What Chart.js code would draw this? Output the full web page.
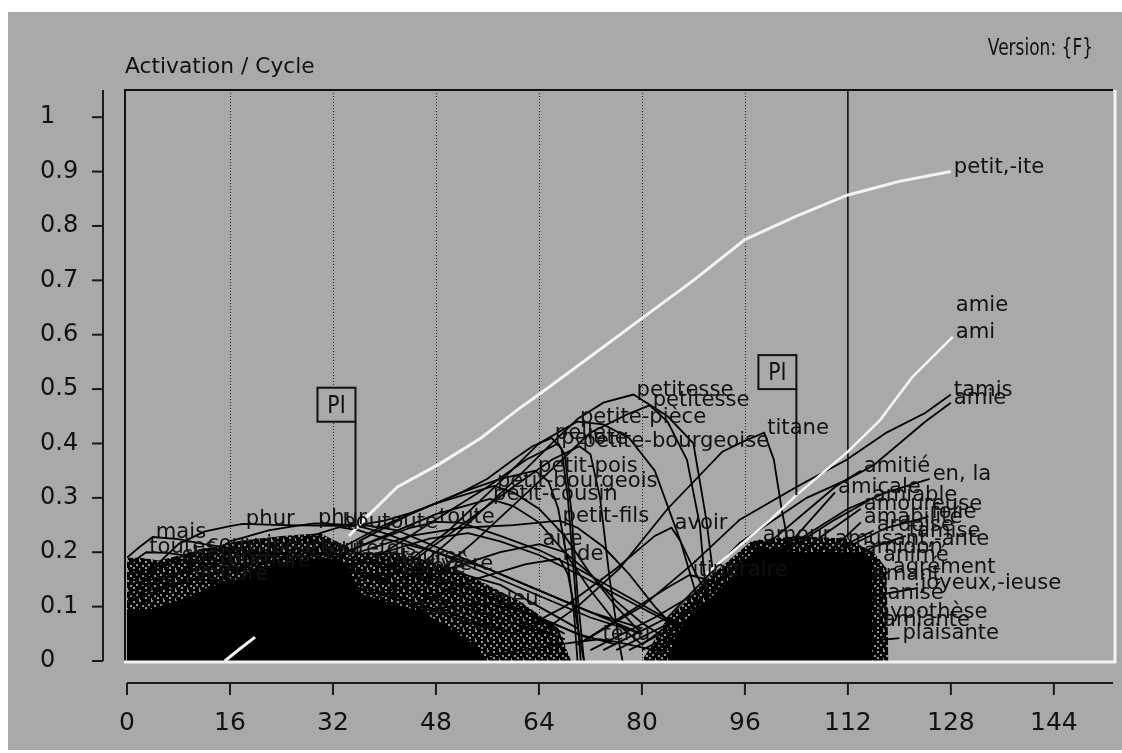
<!DOCTYPE html>
<html>
<head>
<meta charset="utf-8">
<style>
  html, body { margin: 0; padding: 0; background: #fff; }
  canvas { display: block; }
</style>
<script src="https://cdn.jsdelivr.net/npm/chart.js@4.4.1/dist/chart.umd.min.js"></script>
</head>
<body>
<canvas id="chartActivation" width="1122" height="753"></canvas>
<script>
// === Données : activation des mots par cycle ===

const xTicks = [0, 16, 32, 48, 64, 80, 96, 112, 128, 144];
const yTicks = [0, 0.1, 0.2, 0.3, 0.4, 0.5, 0.6, 0.7, 0.8, 0.9, 1];
const dottedCycles = [16, 32, 48, 64, 80, 96];
const solidCycles = [112];

// mot cible (courbe blanche)
const petitCycles = [15.2, 17.5, 19.9, 24, 28, 32, 34.5, 37, 42, 48.5, 55, 61, 64, 72, 80, 88, 96, 104, 112, 120, 128];
const petitAct    = [0, 0.022, 0.044, 0.1, 0.15, 0.2, 0.23, 0.262, 0.32, 0.362, 0.41, 0.465, 0.49, 0.56, 0.63, 0.7, 0.775, 0.818, 0.857, 0.882, 0.9];
const petitMasked = [19.9, 36.5]; // cycles où la courbe disparaît sous la masse noire

// second mot (courbe blanche)
const amiCycles = [90, 95, 100, 104, 108, 112, 117, 122, 128.3];
const amiAct    = [0.16, 0.21, 0.26, 0.305, 0.345, 0.385, 0.443, 0.522, 0.596];

// repères "PI" : cycle, niveau du cadre, courbe visée
const piCycles = [35.5, 104];
const piLevels = [0.44, 0.5];
const piTargets = ['petit', 'ami'];

// étiquettes empilées sans courbe propre
const extraWords = ['amie'];
const extraCycles = [128.3];
const extraAct = [0.645];

// masses noires (enveloppes des centaines de courbes superposées)
const massLeftCore = [[0,0.095],[4,0.095],[5,0.1],[10,0.12],[14,0.14],[17,0.15],[21,0.173],[26,0.185],[31,0.19],[34,0.18],[35,0.15],[36,0.125],[40,0.11],[46,0.09],[50,0.06],[54,0.03],[56,0]];
const massLeftFringe = [[0,0.19],[2,0.19],[5,0.185],[10,0.2],[17,0.22],[24,0.23],[30,0.235],[36,0.2],[42,0.2],[51,0.17],[56,0.14],[61,0.11],[64,0.085],[67,0.06],[68,0.03],[69,0]];
const massRightCore = [[84,0],[86,0.06],[88,0.09],[92,0.13],[95,0.17],[98,0.21],[104,0.2],[110,0.2],[114,0.2],[115.8,0.19],[115.8,0]];
const massRightFringe = [[80,0],[82,0.04],[84,0.08],[86,0.1],[90,0.15],[94,0.19],[97,0.22],[104,0.23],[112,0.225],[116,0.2],[118,0.17],[118.3,0]];

// courbes noires individuelles : [mot, points [cycle, activation]]
const tangle = [
  ['mais', [[0,0.19],[2,0.21],[4,0.228],[8,0.224],[12,0.215],[20,0.2],[28,0.18],[36,0.16],[44,0.13],[52,0.1],[60,0.07],[68,0.04]]],
  ['toutes', [[0,0.175],[3,0.2],[6,0.199],[12,0.19],[20,0.175],[28,0.16],[36,0.14],[44,0.11],[52,0.08],[60,0.05]]],
  ['couvrir', [[0,0.16],[4,0.17],[8,0.19],[12,0.206],[16,0.2],[24,0.18],[32,0.15],[40,0.12],[48,0.09],[56,0.06]]],
  ['phur', [[0,0.1],[4,0.17],[8,0.215],[12,0.238],[16,0.248],[18,0.252],[24,0.25],[30,0.249],[36,0.248],[40,0.235],[48,0.2],[56,0.16],[64,0.12],[72,0.08],[80,0.05]]],
  ['phur', [[0,0.08],[8,0.16],[16,0.22],[22,0.24],[26,0.248],[29.2,0.253],[33,0.251],[37,0.25],[42,0.24],[48,0.21],[56,0.17],[64,0.13],[72,0.09],[80,0.05]]],
  ['boutoute', [[0,0.05],[8,0.1],[16,0.16],[24,0.21],[30,0.235],[33,0.246],[36,0.24],[40,0.225],[48,0.2],[56,0.17],[64,0.13],[72,0.09],[80,0.06]]],
  ['toute', [[16,0.08],[26,0.15],[36,0.21],[44,0.245],[48,0.256],[52,0.254],[58,0.23],[64,0.204],[70,0.17],[76,0.13],[82,0.09],[88,0.05]]],
  [null, [[20,0.08],[30,0.15],[40,0.2],[47,0.225],[53,0.235],[58,0.22],[64,0.195],[70,0.16],[78,0.11],[86,0.06]]],
  ['chemise', [[0,0.15],[4,0.165],[8,0.185],[12,0.18],[20,0.16],[28,0.14],[36,0.11],[44,0.08],[52,0.05]]],
  ['tournure', [[0,0.14],[6,0.155],[14,0.175],[18,0.17],[26,0.15],[34,0.12],[42,0.09],[50,0.06]]],
  ['pourtour', [[0,0.125],[8,0.16],[16,0.19],[22,0.2],[28,0.19],[36,0.165],[44,0.13],[52,0.09],[60,0.05]]],
  ['toutefois', [[0,0.11],[10,0.15],[20,0.18],[30,0.196],[36,0.185],[44,0.16],[52,0.12],[60,0.08],[68,0.04]]],
  ['entourer', [[4,0.05],[14,0.11],[26,0.16],[38,0.182],[44,0.17],[52,0.14],[60,0.1],[68,0.05]]],
  ['rivière', [[8,0.04],[20,0.1],[34,0.15],[46,0.17],[52,0.16],[58,0.14],[64,0.1],[70,0.06]]],
  ['lisière', [[20,0.06],[30,0.12],[38,0.155],[42.4,0.163],[48,0.15],[54,0.13],[60,0.1],[66,0.07],[72,0.04]]],
  ['voiture', [[0,0.12],[5,0.135],[10,0.15],[16,0.145],[24,0.13],[32,0.11],[40,0.08],[48,0.05]]],
  ['pelle', [[36,0.25],[40,0.258],[44,0.272],[48,0.29],[52,0.31],[56,0.335],[60,0.37],[63,0.395],[66,0.41],[67.5,0.39],[68.5,0.3],[69.5,0.15],[70.5,0]]],
  ['pelote', [[40,0.2],[48,0.26],[56,0.32],[62,0.37],[67,0.4],[68,0.38],[69,0.28],[70,0.12],[71,0]]],
  ['petite-bourgeoise', [[44,0.18],[52,0.25],[60,0.32],[66,0.37],[70.3,0.395],[72,0.38],[73.5,0.3],[75,0.15],[76.5,0.03],[77,0]]],
  ['petite-pièce', [[40,0.15],[50,0.24],[58,0.33],[64,0.4],[69.9,0.44],[74,0.435],[78,0.41],[82,0.35],[86,0.22],[89,0.1],[91,0]]],
  ['petitesse', [[40,0.12],[50,0.22],[60,0.33],[66,0.4],[70,0.445],[74,0.475],[78.7,0.49],[84,0.45],[88,0.4],[90,0.26],[91.5,0.12],[92.5,0]]],
  ['petitesse', [[44,0.12],[54,0.22],[64,0.33],[72,0.42],[78,0.455],[81.2,0.47],[84,0.44],[87,0.37],[89,0.25],[90,0.12],[91,0]]],
  ['titane', [[64,0.05],[70,0.1],[76.5,0.17],[84,0.28],[92.5,0.385],[96,0.405],[99,0.42],[100.5,0.37],[101.7,0.28],[103,0.2],[105,0.12],[108,0.06],[112,0.02]]],
  ['avoir', [[60,0.05],[68,0.1],[76,0.17],[82,0.23],[84.6,0.245],[86,0.22],[88,0.17],[91,0.1],[95,0.04]]],
  ['petit-fils', [[36,0.2],[44,0.23],[52,0.245],[60,0.25],[67.2,0.258],[70,0.245],[74,0.21],[78,0.16],[82,0.1],[86,0.05],[90,0.02]]],
  ['petit-pois', [[36,0.22],[44,0.27],[52,0.31],[58,0.335],[63.4,0.35],[65.5,0.33],[67,0.28],[68.5,0.18],[69.5,0.08],[70,0]]],
  ['petit-bourgeois', [[32,0.2],[40,0.25],[48,0.29],[57,0.322],[60,0.31],[64,0.28],[68,0.23],[72,0.16],[76,0.1],[80,0.05]]],
  ['petit-cousin', [[32,0.19],[40,0.23],[48,0.27],[56.4,0.298],[60,0.285],[64,0.255],[68,0.2],[72,0.13],[76,0.07],[80,0.03]]],
  ['aire', [[40,0.12],[50,0.17],[58,0.2],[64.1,0.215],[68,0.2],[72,0.16],[76,0.11],[80,0.07],[84,0.04]]],
  ['ride', [[44,0.1],[54,0.15],[62,0.178],[67.2,0.188],[68.5,0.16],[69.5,0.1],[70.5,0.03],[71,0]]],
  ['bleu', [[30,0.05],[40,0.08],[50,0.1],[56.4,0.105],[60,0.095],[64,0.08],[70,0.05],[76,0.03]]],
  ['tenu', [[56,0.01],[64,0.025],[70,0.035],[73.4,0.04],[76,0.035],[80,0.025],[86,0.01]]],
  ['itinéraire', [[70,0.03],[78,0.09],[84,0.135],[87.4,0.158],[90,0.15],[94,0.13],[98,0.1],[104,0.07]]],
  ['tamis', [[70,0.03],[80,0.1],[88,0.18],[95.2,0.26],[104,0.32],[111.8,0.37],[118,0.42],[124,0.456],[128,0.49]]],
  ['amie', [[74,0.02],[84,0.08],[95.2,0.217],[105.6,0.3],[111.8,0.333],[116,0.36],[120,0.4],[124,0.44],[128,0.475]]],
  ['amitié', [[72,0.02],[82,0.08],[92,0.15],[100,0.22],[106,0.28],[110,0.32],[114,0.35]]],
  ['en, la', [[76,0.02],[86,0.08],[96,0.15],[104,0.22],[112,0.28],[118,0.31],[124.7,0.335]]],
  ['amicale', [[78,0.02],[88,0.08],[96,0.15],[104,0.23],[110,0.31]]],
  ['amoureuse', [[80,0.02],[90,0.08],[100,0.16],[108,0.23],[114,0.28]]],
  ['folie', [[82,0.02],[92,0.07],[102,0.14],[112,0.21],[118,0.245],[124.5,0.265]]],
  ['amabilité', [[84,0.02],[94,0.08],[104,0.16],[110,0.21],[114,0.255]]],
  ['amusant,-ante', [[84,0.03],[92,0.08],[100,0.14],[106,0.19],[109.5,0.215]]],
  ['amour', [[80,0.03],[88,0.1],[94,0.17],[98.3,0.222],[102,0.2],[106,0.15],[110,0.1],[114,0.06]]],
  ['agrément', [[86,0.02],[96,0.06],[106,0.11],[112,0.14],[118.5,0.164]]],
  ['joyeux,-ieuse', [[88,0.02],[98,0.05],[108,0.09],[116,0.12],[122.8,0.134]]],
  ['hypothèse', [[84,0.01],[96,0.03],[106,0.06],[116,0.081]]],
  ['plaisante', [[90,0.005],[100,0.015],[110,0.03],[120,0.042]]],
  ['amiable', [[82,0.02],[92,0.1],[102,0.2],[110,0.26],[115.4,0.296]]],
  ['ardoise', [[86,0.02],[96,0.1],[106,0.18],[116,0.24]]],
  ['animé', [[88,0.02],[98,0.08],[108,0.14],[117,0.186]]],
  ['amant', [[86,0.02],[96,0.06],[106,0.11],[115.4,0.15]]],
  ['anisé', [[88,0.01],[98,0.04],[108,0.08],[117.7,0.116]]],
  ['amiante', [[90,0.01],[100,0.03],[110,0.05],[117,0.066]]],
  ['amidon', [[84,0.02],[94,0.07],[104,0.13],[114,0.2]]],
  ['tamise', [[86,0.02],[96,0.08],[106,0.14],[116,0.21],[121,0.23]]]
];

// === Styles ===
const GREY = '#a9a9a9';
const INK = '#111';
const LINE = '#000';
const PALE = '#f3f3f3';
const FONT = '"DejaVu Sans", sans-serif';

// === Utilitaires ===
function toPoints(list) { return list.map(p => ({ x: p[0], y: p[1] })); }
function zip(xs, ys) { return xs.map((x, i) => ({ x: x, y: ys[i] })); }
function interp(xs, ys, x) {
    for (let i = 1; i < xs.length; i++) {
        if (x <= xs[i]) {
            const t = (x - xs[i - 1]) / (xs[i] - xs[i - 1]);
            return ys[i - 1] + t * (ys[i] - ys[i - 1]);
        }
    }
    return ys[ys.length - 1];
}
function drawWord(ctx, text, x, y, size, squeeze, align) {
    ctx.save();
    ctx.translate(x, y);
    ctx.scale(squeeze, 1);
    ctx.font = size + 'px ' + FONT;
    ctx.fillStyle = INK;
    ctx.textAlign = align || 'left';
    ctx.textBaseline = 'alphabetic';
    ctx.fillText(text, 0, 0);
    ctx.restore();
}

// motif moucheté pour les bords de la masse noire
function speckle() {
    const c = document.createElement('canvas');
    c.width = 12; c.height = 10;
    const g = c.getContext('2d');
    g.fillStyle = '#000';
    g.fillRect(0, 0, 12, 10);
    g.fillStyle = '#929292';
    g.fillRect(1, 1, 2, 2);
    g.fillRect(7, 0, 2, 2);
    g.fillRect(4, 4, 2, 2);
    g.fillRect(10, 5, 2, 2);
    g.fillRect(1, 7, 2, 2);
    g.fillRect(7, 8, 1, 2);
    return g.createPattern(c, 'repeat');
}
const dots = speckle();

// === Jeux de données ===
const datasets = [];

// courbes blanches (au-dessus)
datasets.push({
    key: 'petit', word: 'petit,-ite',
    data: zip(petitCycles, petitAct),
    borderColor: PALE, borderWidth: 3, order: 1,
    segment: {
        borderColor: c => (c.p0.parsed.x >= petitMasked[0] && c.p1.parsed.x <= petitMasked[1]) ? 'rgba(0,0,0,0)' : PALE
    }
});
datasets.push({
    key: 'ami', word: 'ami',
    data: zip(amiCycles, amiAct),
    borderColor: PALE, borderWidth: 2.5, order: 1
});

// courbes noires
tangle.forEach(([word, p]) => {
    datasets.push({ word: word, data: toPoints(p), borderColor: LINE, borderWidth: 1.8, order: 2 });
});

// masses (cœur plein au-dessus du bord moucheté)
[[massLeftCore, '#000'], [massRightCore, '#000'], [massLeftFringe, dots], [massRightFringe, dots]].forEach(([p, bg]) => {
    datasets.push({ data: toPoints(p), borderWidth: 0, borderColor: 'rgba(0,0,0,0)', backgroundColor: bg, fill: 'origin', order: 3 });
});

// === Plugin : fond, grille, repères, étiquettes, axes décalés ===
const decor = {
    id: 'decor',
    beforeDraw(chart) {
        const ctx = chart.ctx;
        ctx.save();
        ctx.fillStyle = '#fff';
        ctx.fillRect(0, 0, chart.width, chart.height);
        ctx.fillStyle = GREY;
        ctx.fillRect(8, 12, chart.width - 8, chart.height - 15);
        ctx.restore();
    },
    beforeDatasetsDraw(chart) {
        const ctx = chart.ctx, a = chart.chartArea, xs = chart.scales.x;
        ctx.save();
        ctx.strokeStyle = '#262626';
        ctx.lineWidth = 1;
        ctx.setLineDash([1, 2]);
        dottedCycles.forEach(c => {
            const x = Math.round(xs.getPixelForValue(c)) + 0.5;
            ctx.beginPath(); ctx.moveTo(x, a.top); ctx.lineTo(x, a.bottom); ctx.stroke();
        });
        ctx.setLineDash([]);
        ctx.lineWidth = 1.6;
        ctx.strokeStyle = '#111';
        solidCycles.forEach(c => {
            const x = xs.getPixelForValue(c);
            ctx.beginPath(); ctx.moveTo(x, a.top); ctx.lineTo(x, a.bottom); ctx.stroke();
        });
        ctx.restore();
    },
    afterDatasetsDraw(chart) {
        const ctx = chart.ctx, a = chart.chartArea;
        const xs = chart.scales.x, ys = chart.scales.y;

        // cadre : haut/gauche noirs, droite/bas blancs
        ctx.save();
        ctx.strokeStyle = '#111';
        ctx.lineWidth = 2;
        ctx.beginPath();
        ctx.moveTo(a.left - 2, a.bottom);
        ctx.lineTo(a.left - 2, a.top);
        ctx.lineTo(a.right - 2, a.top);
        ctx.stroke();
        ctx.strokeStyle = PALE;
        ctx.lineWidth = 3;
        ctx.beginPath();
        ctx.moveTo(a.right, a.top);
        ctx.lineTo(a.right, a.bottom + 1);
        ctx.lineTo(a.left - 3, a.bottom + 1);
        ctx.stroke();
        ctx.restore();

        // étiquettes au sommet de chaque courbe
        chart.data.datasets.forEach((ds, i) => {
            if (!ds.word) return;
            const meta = chart.getDatasetMeta(i);
            let k = 0;
            ds.data.forEach((d, j) => { if (d.y > ds.data[k].y) k = j; });
            const el = meta.data[k];
            drawWord(ctx, ds.word, el.x + 3, el.y + 1, 22, 0.96);
        });
        extraWords.forEach((w, i) => {
            drawWord(ctx, w, xs.getPixelForValue(extraCycles[i]) + 3, ys.getPixelForValue(extraAct[i]) + 1, 22, 0.96);
        });

        // repères PI
        const curves = { petit: [petitCycles, petitAct], ami: [amiCycles, amiAct] };
        piCycles.forEach((c, i) => {
            const cv = curves[piTargets[i]];
            const x = xs.getPixelForValue(c);
            const top = ys.getPixelForValue(piLevels[i]);
            const base = ys.getPixelForValue(interp(cv[0], cv[1], c));
            ctx.save();
            ctx.strokeStyle = '#111';
            ctx.lineWidth = 2;
            ctx.beginPath(); ctx.moveTo(x, top); ctx.lineTo(x, base); ctx.stroke();
            ctx.fillStyle = GREY;
            ctx.fillRect(x - 38, top - 34, 38, 34);
            ctx.strokeRect(x - 38, top - 34, 38, 34);
            ctx.restore();
            drawWord(ctx, 'PI', x - 19, top - 9, 24, 0.85, 'center');
        });
    },
    afterDraw(chart) {
        const ctx = chart.ctx, a = chart.chartArea;
        const xs = chart.scales.x, ys = chart.scales.y;
        ctx.save();
        ctx.strokeStyle = '#1a1a1a';
        ctx.lineWidth = 2;

        // axe vertical décalé à gauche
        const ax = a.left - 24;
        ctx.beginPath();
        ctx.moveTo(ax, a.top);
        ctx.lineTo(ax, ys.getPixelForValue(0));
        ctx.stroke();
        yTicks.forEach(v => {
            const y = ys.getPixelForValue(v);
            ctx.beginPath(); ctx.moveTo(ax - 11, y); ctx.lineTo(ax, y); ctx.stroke();
        });

        // axe horizontal décalé vers le bas
        const ay = a.bottom + 22;
        ctx.beginPath();
        ctx.moveTo(xs.getPixelForValue(0), ay);
        ctx.lineTo(a.right - 2, ay);
        ctx.stroke();
        xTicks.forEach(v => {
            const x = xs.getPixelForValue(v);
            ctx.beginPath(); ctx.moveTo(x, ay); ctx.lineTo(x, ay + 12); ctx.stroke();
        });
        ctx.restore();

        drawWord(ctx, 'Activation / Cycle', a.left - 2, 73, 22, 0.99);
        drawWord(ctx, 'Version: {F}', 1093, 55, 23, 0.74, 'right');
    }
};

// === Graphique ===
new Chart(document.getElementById('chartActivation'), {
    type: 'line',
    data: { datasets: datasets },
    options: {
        responsive: false,
        animation: false,
        devicePixelRatio: 1,
        events: [],
        layout: { padding: { left: 40, top: 90, right: 7, bottom: 0 } },
        elements: { point: { radius: 0 }, line: { tension: 0, fill: false } },
        plugins: { legend: { display: false }, tooltip: { enabled: false } },
        scales: {
            x: {
                type: 'linear', min: 0, max: 153.5,
                afterBuildTicks: s => { s.ticks = xTicks.map(v => ({ value: v })); },
                afterFit: s => { s.height = 92; },
                border: { display: false },
                grid: { display: true, drawOnChartArea: false, tickLength: 30, color: 'rgba(0,0,0,0)', tickColor: 'rgba(0,0,0,0)' },
                ticks: { autoSkip: false, maxRotation: 0, padding: 17, color: INK,
                         font: { family: FONT, size: 25 }, callback: v => String(v) }
            },
            y: {
                type: 'linear', min: 0, max: 1.05,
                afterBuildTicks: s => { s.ticks = yTicks.map(v => ({ value: v })); },
                afterFit: s => { s.width = 87; },
                border: { display: false },
                grid: { display: true, drawOnChartArea: false, tickLength: 24, color: 'rgba(0,0,0,0)', tickColor: 'rgba(0,0,0,0)' },
                ticks: { crossAlign: 'far', color: INK, font: { family: FONT, size: 24 },
                         callback: v => String(Math.round(v * 10) / 10) }
            }
        }
    },
    plugins: [decor]
});
</script>
</body>
</html>
